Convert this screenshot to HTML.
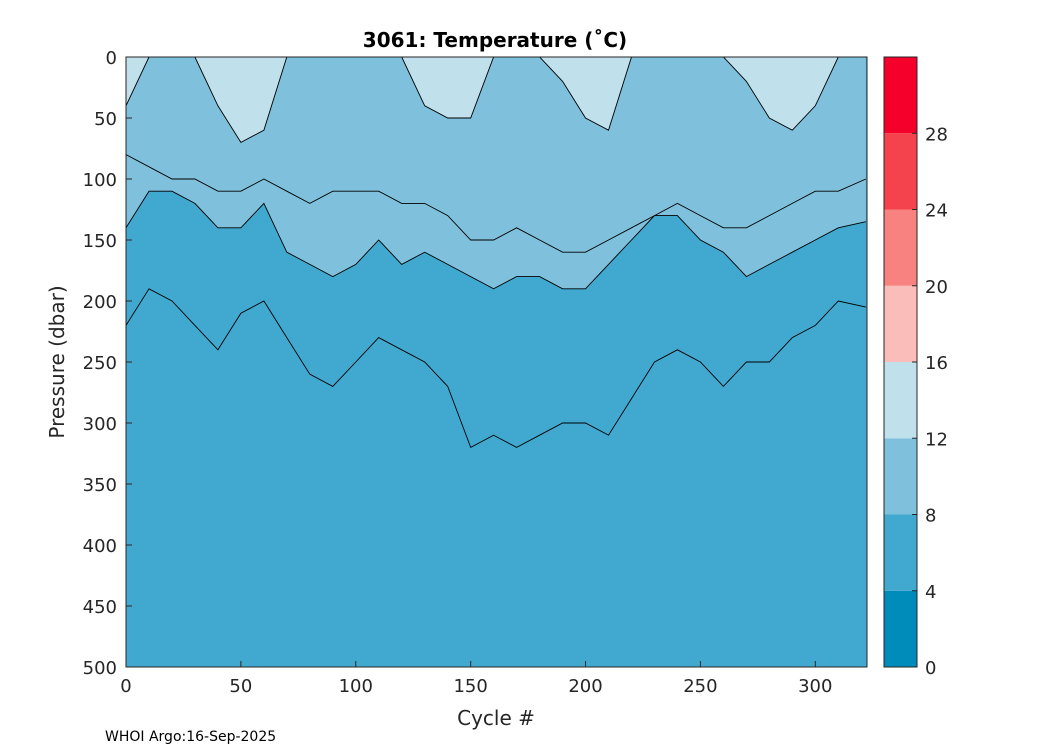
<!DOCTYPE html>
<html><head><meta charset="utf-8"><style>
body{margin:0;background:#fff;}
svg text{font-family:"DejaVu Sans","Liberation Sans",sans-serif;fill:#262626;}
</style></head><body>
<svg id="chart" width="1050" height="750" viewBox="0 0 1050 750" xmlns="http://www.w3.org/2000/svg">
<rect width="1050" height="750" fill="#fff"/>
<text x="495" y="47" text-anchor="middle" font-size="20" font-weight="bold" style="fill:#000">3061:  Temperature (˚C)</text>
<g id="plot"></g>
<g id="axes"></g>
<g id="cbar"></g>
<text transform="translate(64,362) rotate(-90)" text-anchor="middle" font-size="20">Pressure (dbar)</text>
<text x="496" y="725" text-anchor="middle" font-size="20">Cycle #</text>
<text x="105" y="741" font-size="14" style="fill:#000">WHOI Argo:16-Sep-2025</text>
</svg>
<script>
const cycles=[0,10,20,30,40,50,60,70,80,90,100,110,120,130,140,150,160,170,180,190,200,210,220,230,240,250,260,270,280,290,300,310,322];
const iso6=[220,190,200,220,240,210,200,230,260,270,250,230,240,250,270,320,310,320,310,300,300,310,280,250,240,250,270,250,250,230,220,200,205];
const iso8=[140,110,110,120,140,140,120,160,170,180,170,150,170,160,170,180,190,180,180,190,190,170,150,130,130,150,160,180,170,160,150,140,135];
const iso10=[80,90,100,100,110,110,100,110,120,110,110,110,120,120,130,150,150,140,150,160,160,150,140,130,120,130,140,140,130,120,110,110,100];
const iso12=[40,0,0,0,40,70,60,0,0,0,0,0,0,40,50,50,0,0,0,20,50,60,0,0,0,0,0,20,50,60,40,0,0];
const xTicks=[0,50,100,150,200,250,300];
const yTicks=[0,50,100,150,200,250,300,350,400,450,500];
const cbLevels=[0,4,8,12,16,20,24,28,32];
const cbColors=["#008cba","#41a9cf","#7fc1dc","#c0e0ec","#fbbdb9","#f7827f","#f5434e","#f5002a"];
const cbLabels=[0,4,8,12,16,20,24,28];

const X0=126,X1=867,Y0=57,Y1=667,XMAX=322.5,PMAX=500;
const xs=c=>X0+(c/XMAX)*(X1-X0);
const ys=p=>Y0+(p/PMAX)*(Y1-Y0);
const NS="http://www.w3.org/2000/svg";
function mk(t,a,parent){const e=document.createElementNS(NS,t);for(const k in a)e.setAttribute(k,a[k]);parent.appendChild(e);return e;}
const plot=document.getElementById('plot'),axes=document.getElementById('axes'),cb=document.getElementById('cbar');

let bg=mk('rect',{x:X0,y:Y0,width:X1-X0,height:Y1-Y0,fill:"#41a9cf"},plot);


function linePts(arr){return cycles.map((c,i)=>xs(Math.min(c,XMAX)).toFixed(1)+","+ys(arr[i]).toFixed(1));}
function band(arr,color,name){
  const pts=[xs(0)+","+ys(0)].concat(linePts(arr)).concat([xs(cycles[cycles.length-1])+","+ys(0)]);
  const p=mk('polygon',{points:pts.join(" "),fill:color},plot);
  
  
}
band(iso8,"#7fc1dc","band-8-12");
band(iso12,"#c0e0ec","band-12-16");
[[iso6,'isotherm-6'],[iso8,'isotherm-8'],[iso10,'isotherm-10'],[iso12,'isotherm-12']].forEach(([a,n])=>{
  const l=mk('polyline',{points:linePts(a).join(" "),fill:"none",stroke:"#000","stroke-width":0.9},plot);
  
  
});
let fr=mk('rect',{x:X0,y:Y0,width:X1-X0,height:Y1-Y0,fill:"none",stroke:"#262626","stroke-width":1},axes);


xTicks.forEach(t=>{
  mk('line',{x1:xs(t),x2:xs(t),y1:Y1,y2:Y1-6,stroke:"#262626"},axes);
  const tx=mk('text',{x:xs(t),y:Y1+25,"text-anchor":"middle","font-size":18},axes);
  tx.textContent=t;
  
  
});
yTicks.forEach(t=>{
  mk('line',{x1:X0,x2:X0+6,y1:ys(t),y2:ys(t),stroke:"#262626"},axes);
  const tx=mk('text',{x:X0-9,y:ys(t)+7,"text-anchor":"end","font-size":18},axes);
  tx.textContent=t;
  
  
});
const CX=884,CW=33;
const cy=v=>Y1-(v/32)*(Y1-Y0);
cbColors.forEach((c,i)=>{
  const r=mk('rect',{x:CX,y:cy(cbLevels[i+1]),width:CW,height:cy(cbLevels[i])-cy(cbLevels[i+1]),fill:c},cb);
  
  
});
mk('rect',{x:CX,y:Y0,width:CW,height:Y1-Y0,fill:"none",stroke:"#262626"},cb);
cbLabels.forEach(v=>{
  mk('line',{x1:CX+CW-5,x2:CX+CW,y1:cy(v),y2:cy(v),stroke:"#262626"},cb);
  const tx=mk('text',{x:CX+CW+8,y:cy(v)+7,"font-size":18},cb);
  tx.textContent=v;
  
  
});
</script>
</body></html>
